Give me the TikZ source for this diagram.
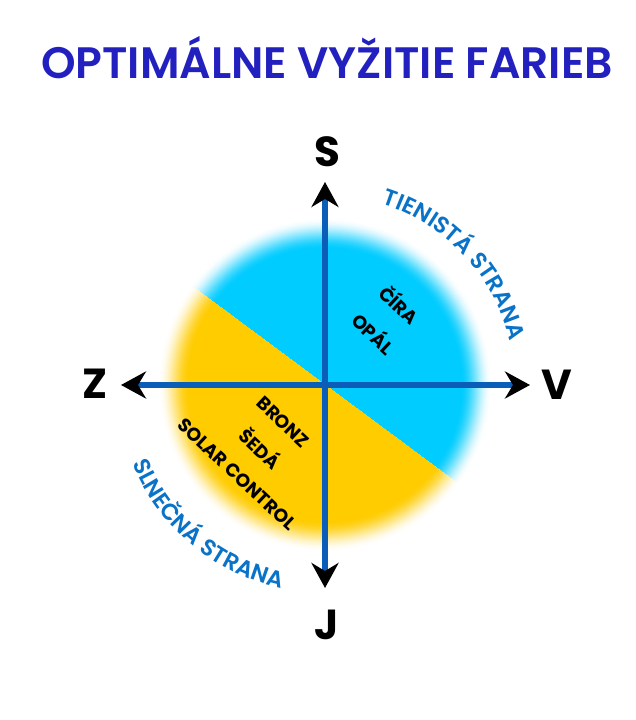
\documentclass[tikz,border=0pt]{standalone}
\usepackage{fontspec}
\setmainfont{Poppins}
\newfontfamily\popsemi{Poppins SemiBold}
\usetikzlibrary{arrows.meta,decorations.text,calc}
\definecolor{cblue}{RGB}{0,204,255}
\definecolor{cyellow}{RGB}{255,204,0}
\definecolor{axisblue}{RGB}{10,94,184}
\definecolor{titleblue}{RGB}{35,32,192}
\definecolor{sideblue}{RGB}{10,115,200}
\tikzset{
  title/.style={font=\fontsize{44}{44}\popsemi, text=titleblue, inner sep=0pt},
  dirletter/.style={font=\fontsize{42}{42}\selectfont\bfseries, text=black, inner sep=0pt},
  glass/.style={font=\fontsize{18.6}{18.6}\selectfont\bfseries, text=black, inner sep=0pt, rotate=-43},
  axis/.style={draw=axisblue, line width=5.5pt,
    {Stealth[black,length=25pt,width=27pt,inset=8pt]}-{Stealth[black,length=25pt,width=27pt,inset=8pt]}},
}
\begin{document}
\begin{tikzpicture}[x=1pt,y=1pt]
\useasboundingbox (0,0) rectangle (635,720);
\fill[white] (0,0) rectangle (635,720);
\coordinate (C) at (325,335);
% half discs with soft edge
\begin{scope}
  \clip[rotate around={-36.6:(C)}] ($(C)+(-250,0)$) rectangle ($(C)+(250,250)$);
  \foreach \i in {0,...,40}{
    \pgfmathsetmacro\rr{167-\i*0.78}
    \pgfmathsetmacro\pp{100*(3*(\i/40)^2-2*(\i/40)^3)}
    \fill[cblue!\pp!white] (C) circle (\rr);
  }
\end{scope}
\begin{scope}
  \clip[rotate around={-36.6:(C)}] ($(C)+(-250,0)$) rectangle ($(C)+(250,-250)$);
  \foreach \i in {0,...,40}{
    \pgfmathsetmacro\rr{167-\i*0.78}
    \pgfmathsetmacro\pp{100*(3*(\i/40)^2-2*(\i/40)^3)}
    \fill[cyellow!\pp!white] (C) circle (\rr);
  }
\end{scope}
% title
\node[title] (ttl) at (327,662) {OPTIMÁLNE VYŽITIE FARIEB};
% direction letters
\node[dirletter] (S) at (327,568) {S};
\node[dirletter] (J) at (327,95) {J};
\node[dirletter] (Z) at (95,336) {Z};
\node[dirletter] (V) at (557,335) {V};
% axis tips
\coordinate (tS) at (325,538);
\coordinate (tJ) at (325,132);
\coordinate (tZ) at (121,335);
\coordinate (tV) at (530,335);
\draw[axis] (tJ) -- (tS);
\draw[axis] (tZ) -- (tV);
% glass labels
\node[glass] (cira) at (400,416) {ČÍRA};
\node[glass] (opal) at (374,387) {OPÁL};
\node[glass] (bronz) at (283,298) {BRONZ};
\node[glass] (seda) at (261,272) {ŠEDÁ};
\node[glass] (solar) at (237,246) {SOLAR CONTROL};
% side labels
\path[decorate, decoration={text along path, text align=center,
  text={|\fontsize{23}{23}\popsemi\color{sideblue}|TIENISTÁ STRANA}}]
  ($(C)+(87:190)$) arc[start angle=87, end angle=-1, radius=190];
\path[decorate, decoration={text along path, text align=center,
  text={|\fontsize{23}{23}\popsemi\color{sideblue}|SLNEČNÁ STRANA}}]
  ($(C)+(186:208)$) arc[start angle=186, end angle=274, radius=208];
\end{tikzpicture}
\end{document}
